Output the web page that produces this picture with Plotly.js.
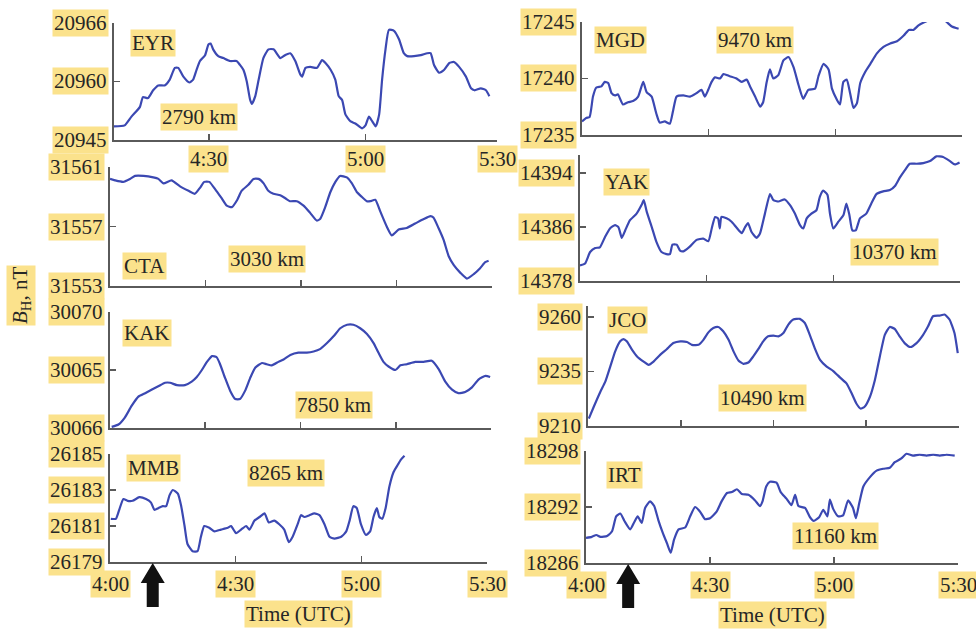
<!DOCTYPE html>
<html>
<head>
<meta charset="utf-8">
<script src="https://cdn.plot.ly/plotly-3.0.1.min.js"></script>
<style>html,body{margin:0;padding:0;background:#fff;}#chart{width:976px;height:629px;}</style>
</head>
<body>
<div id="chart"></div>
<script>
// ---- DATA (minutes after 4:00 UTC, B_H in nT) ----
const eyrT = [0,2.5,4.1,6.1,6.8,8.0,9.2,10.4,11.9,13.1,14.3,15.1,16.3,17.7,18.6,19.4,20.2,21.4,22.2,22.7,23.3,24.5,25.7,27.3,28.8,29.6,30.4,31.2,32.0,32.4,33.2,34.0,35.1,36.3,37.5,39.1,40.2,41.4,42.6,43.8,44.2,45.0,46.1,47.7,48.9,49.7,50.9,52.0,52.8,53.6,54.4,55.6,56.7,58.3,59.1,59.9,60.7,61.5,62.3,63.0,63.8,64.6,65.8,67.0,68.1,68.9,70.5,72.1,73.6,74.4,75.2,76.4,77.6,78.8,79.9,81.1,82.7,83.9,84.7,86.2,87.4,88.2];
const eyrV = [20955.4,20955.5,20956.4,20957.4,20958.4,20958.3,20959.1,20959.6,20959.6,20960.2,20961.4,20961.4,20960.5,20959.9,20960.2,20961.2,20962.1,20962.7,20963.8,20963.9,20963.3,20962.6,20962.4,20962.1,20962.1,20961.7,20961.2,20960.0,20958.1,20957.7,20958.5,20960.2,20962.4,20963.3,20963.3,20962.4,20962.7,20962.9,20962.1,20960.7,20960.5,20961.4,20961.5,20961.4,20962.2,20961.9,20961.2,20960.2,20958.5,20958.1,20956.6,20955.9,20955.7,20955.2,20955.5,20956.4,20955.9,20955.4,20956.6,20960.2,20963.3,20965.3,20965.2,20964.3,20962.9,20962.6,20962.6,20962.7,20962.9,20962.9,20961.7,20960.9,20961.2,20961.9,20962.0,20961.5,20960.5,20959.3,20959.1,20959.3,20959.1,20958.5];

const ctaT = [0,1.2,3.1,4.7,5.9,7.9,10.2,11.4,12.6,14.5,16.5,18.5,20.0,21.2,22.2,23.4,24.8,26.3,27.5,28.7,30.0,31.0,32.6,33.8,35.0,36.2,37.3,38.5,40.1,41.3,42.4,44.0,45.6,47.2,48.7,49.5,50.7,51.9,53.1,54.2,55.8,57.0,58.2,59.3,60.5,61.3,62.5,63.7,65.2,66.4,68.0,69.9,71.9,73.9,75.5,76.2,77.4,78.6,79.8,81.0,82.5,84.1,85.7,87.2,88.4,89.2];
const ctaV = [31560.2,31560.1,31560.0,31560.2,31560.4,31560.4,31560.3,31560.2,31559.9,31560.1,31559.7,31559.4,31559.2,31559.6,31560.0,31560.0,31559.5,31558.9,31558.4,31558.3,31558.8,31559.4,31559.8,31560.2,31560.2,31559.9,31559.4,31559.2,31559.1,31558.9,31558.7,31558.7,31558.4,31557.9,31557.4,31557.5,31558.3,31559.3,31560.0,31560.4,31560.3,31559.9,31559.3,31559.0,31558.7,31558.7,31558.8,31558.0,31557.0,31556.4,31556.8,31556.9,31557.2,31557.5,31557.7,31557.6,31556.9,31556.1,31555.0,31554.4,31553.9,31553.5,31553.8,31554.2,31554.6,31554.7];

const kakT = [0.4,2.0,3.5,5.1,6.7,8.3,9.8,11.4,13.0,14.2,15.8,17.7,19.3,20.5,21.7,22.9,24.1,25.2,26.0,27.2,28.4,29.6,30.7,31.9,33.1,34.3,35.9,37.0,38.2,39.8,41.0,42.6,44.5,46.5,48.1,49.6,51.2,52.8,54.4,56.0,57.5,59.1,60.7,62.3,63.4,64.6,65.8,67.4,68.6,70.1,72.1,74.1,76.0,77.6,79.2,80.8,82.3,83.9,85.5,87.1,88.7,89.8];
const kakV = [30060.1,30060.3,30060.9,30061.9,30062.7,30063.0,30063.3,30063.6,30063.9,30063.9,30063.7,30063.7,30064.0,30064.4,30065.0,30065.7,30066.2,30066.1,30065.5,30064.3,30063.2,30062.5,30062.5,30063.2,30064.3,30065.2,30065.6,30065.5,30065.4,30065.7,30065.9,30066.3,30066.5,30066.5,30066.6,30066.8,30067.3,30067.9,30068.6,30068.9,30068.9,30068.6,30068.1,30067.3,30066.5,30065.7,30065.3,30065.0,30065.4,30065.5,30065.7,30065.7,30065.8,30065.1,30064.0,30063.3,30063.0,30063.1,30063.5,30064.2,30064.5,30064.4];

const mmbT = [0.2,1.4,2.2,3.2,4.2,5.4,7.0,8.6,9.8,10.6,11.6,12.6,13.4,14.2,15.0,16.2,17.0,17.8,18.5,19.7,20.9,21.7,22.5,23.7,24.9,26.5,28.1,28.9,30.1,31.3,32.5,33.3,34.5,35.7,36.9,37.9,39.2,40.4,41.6,42.7,43.6,44.8,45.6,46.4,47.6,48.8,50.0,51.2,52.4,53.6,55.2,56.4,57.2,58.1,58.9,59.9,61.1,62.1,62.9,63.7,64.3,65.0,65.8,66.7,67.7,68.7,69.5,70.3];
const mmbV = [26181.4,26181.4,26181.9,26182.5,26182.4,26182.4,26182.6,26182.5,26182.3,26181.9,26182.0,26182.1,26182.1,26182.7,26183.0,26182.8,26182.1,26181.0,26180.0,26179.6,26179.6,26180.4,26181.0,26180.9,26180.7,26180.8,26180.9,26181.0,26180.6,26180.8,26181.0,26180.8,26181.3,26181.5,26181.7,26181.2,26181.3,26181.1,26180.8,26180.1,26180.4,26181.1,26181.6,26181.5,26181.6,26181.7,26181.6,26181.1,26180.4,26180.3,26180.4,26180.7,26181.3,26182.1,26182.0,26181.1,26180.5,26180.7,26181.5,26182.0,26181.5,26181.4,26182.0,26183.2,26184.0,26184.4,26184.7,26184.9];

const mgdT = [0,1.0,1.8,2.6,3.4,4.6,5.4,6.2,7.0,7.8,8.5,9.7,10.9,12.1,13.3,14.5,15.3,16.5,17.6,18.4,19.6,20.8,21.6,22.4,24.0,25.6,27.1,28.3,29.1,29.9,30.7,31.5,32.7,33.5,35.0,36.6,37.8,39.0,39.8,41.0,42.2,42.9,43.7,44.5,45.3,46.5,47.7,48.9,50.1,51.3,52.4,53.6,55.2,56.0,57.2,58.4,59.2,60.4,61.1,61.9,62.7,63.5,64.3,65.1,65.9,67.1,68.3,69.8,71.4,73.0,74.6,76.2,77.4,78.5,79.7,80.9,83.3,85.7,87.6,89.2];
const mgdV = [17236.2,17236.5,17236.6,17238.4,17239.2,17239.3,17239.7,17239.6,17238.7,17238.5,17238.6,17237.7,17237.9,17238.0,17238.4,17239.7,17238.8,17238.4,17236.9,17236.1,17236.2,17236.0,17237.2,17238.4,17238.5,17238.4,17238.7,17239.0,17238.4,17239.0,17239.7,17240.1,17240.0,17240.4,17240.2,17240.0,17239.7,17239.9,17239.3,17238.4,17237.5,17237.9,17239.6,17240.8,17240.0,17240.3,17241.6,17241.9,17241.0,17239.4,17238.2,17239.0,17239.1,17240.2,17241.3,17240.8,17239.1,17238.1,17237.7,17239.7,17239.9,17238.7,17237.4,17237.8,17239.6,17240.6,17241.3,17242.2,17242.8,17243.1,17243.3,17243.8,17244.3,17244.3,17244.7,17244.95,17245.3,17245.2,17244.6,17244.4];

const yakT = [0,1.2,2.4,3.6,4.7,5.9,7.1,8.3,9.1,9.9,10.7,11.8,13.4,14.6,15.1,15.8,17.0,18.1,19.3,20.5,21.3,21.9,22.9,23.7,24.5,26.0,27.6,29.2,30.4,31.2,32.0,32.7,33.1,33.5,34.7,35.9,37.1,38.3,39.1,39.8,40.6,41.8,42.6,43.8,45.0,45.8,47.0,48.5,49.7,50.9,52.1,52.9,53.7,54.8,56.0,56.8,57.6,58.6,59.2,60.0,61.2,62.4,63.1,63.8,64.5,65.3,66.3,67.8,69.0,70.2,71.8,73.4,74.6,75.7,77.0,78.1,79.7,81.3,82.9,84.4,86.0,87.6,88.8,89.9];
const yakV = [14380.3,14380.6,14382.3,14382.9,14383.0,14384.5,14385.8,14386.3,14386.0,14384.4,14385.5,14387.0,14388.0,14389.3,14390.0,14388.3,14386.0,14383.8,14382.3,14382.0,14382.0,14383.4,14383.4,14382.5,14382.4,14383.1,14384.1,14384.3,14383.9,14385.8,14387.5,14387.3,14385.8,14387.5,14387.3,14386.8,14385.9,14385.1,14386.0,14386.6,14385.3,14384.4,14385.0,14388.0,14390.9,14390.0,14389.8,14390.1,14389.3,14388.0,14386.3,14385.8,14387.3,14388.0,14388.5,14390.5,14391.4,14390.8,14388.0,14385.8,14386.8,14387.8,14389.5,14387.8,14385.5,14385.5,14387.3,14388.0,14389.5,14390.9,14391.3,14391.5,14392.1,14393.3,14394.5,14395.4,14395.4,14395.5,14395.8,14396.5,14396.4,14395.8,14395.3,14395.6];

const jcoT = [0.2,1.4,3.0,4.2,5.4,6.6,7.8,8.6,9.4,10.7,11.9,13.5,14.7,15.9,17.5,19.1,20.7,22.4,24.0,25.2,26.8,28.0,29.2,30.4,31.6,32.8,34.1,35.3,36.5,37.7,38.9,40.1,41.3,42.5,43.7,45.0,46.2,47.4,48.6,49.8,51.4,52.6,53.8,55.0,56.3,57.9,59.5,61.1,62.7,63.9,65.1,66.1,67.1,68.4,69.6,70.8,72.0,73.2,74.4,75.6,76.8,78.2,79.7,81.3,82.5,83.7,85.3,86.5,87.7,88.9,89.7];
const jcoV = [9213.4,9218.8,9225.7,9230.3,9237.2,9244.2,9248.8,9249.8,9248.8,9244.9,9241.9,9239.5,9238.0,9239.5,9242.6,9245.2,9248.0,9248.8,9248.5,9247.2,9247.2,9249.5,9252.9,9254.9,9255.4,9253.4,9249.5,9244.2,9240.0,9238.5,9239.1,9241.9,9245.2,9248.8,9251.1,9251.4,9251.1,9252.6,9256.5,9258.8,9259.1,9257.2,9251.8,9245.7,9240.3,9237.2,9235.2,9232.3,9229.5,9225.2,9220.3,9218.0,9218.8,9223.4,9231.1,9241.9,9251.8,9255.4,9254.5,9251.1,9248.0,9246.2,9248.0,9251.8,9255.7,9260.3,9260.6,9261.1,9258.8,9252.6,9243.4];

const irtT = [0,1.4,2.5,3.5,5.1,6.3,7.3,8.3,9.3,10.7,11.7,12.5,13.5,14.3,15.5,16.5,17.5,18.6,19.6,20.5,21.3,22.4,24.0,25.2,26.4,27.6,28.8,30.0,31.6,32.8,34.1,35.3,36.5,37.7,39.3,40.9,42.1,42.7,43.6,44.5,46.1,47.1,48.5,49.7,50.6,51.4,53.0,54.2,55.1,56.4,57.4,58.4,59.0,59.8,61.0,62.2,63.4,64.6,65.3,66.1,67.1,68.7,70.3,71.9,73.5,74.7,76.3,77.5,79.1,80.7,82.4,84.0,85.6,87.2,89.2];
const irtV = [18288.7,18288.8,18289.0,18288.8,18288.9,18289.4,18291.0,18291.3,18290.5,18289.6,18290.4,18291.0,18290.3,18291.9,18292.6,18292.1,18290.6,18289.2,18288.1,18287.1,18288.5,18289.6,18289.8,18291.0,18292.0,18291.5,18290.7,18290.8,18291.5,18292.6,18293.5,18293.6,18293.9,18293.4,18293.3,18292.7,18292.1,18292.6,18294.2,18294.7,18294.6,18293.6,18292.9,18292.2,18293.3,18292.1,18291.9,18290.9,18290.5,18290.9,18291.7,18291.0,18292.8,18291.8,18291.0,18291.1,18292.7,18291.9,18290.8,18292.4,18294.2,18295.2,18295.9,18296.1,18296.2,18296.8,18297.2,18297.7,18297.5,18297.6,18297.5,18297.6,18297.5,18297.6,18297.5];

// station names and distances
const stations = ['EYR','CTA','KAK','MMB','MGD','YAK','JCO','IRT'];
const distances = ['2790 km','3030 km','7850 km','8265 km','9470 km','10370 km','10490 km','11160 km'];

// y tick values and the labels printed at them
const eyrTicks = [20954,20960,20966], eyrTickText = ['20945','20960','20966'];
const ctaTicks = [31553,31557,31561], ctaTickText = ['31553','31557','31561'];
const kakTicks = [30060,30065,30070], kakTickText = ['30066','30065','30070'];
const mmbTicks = [26179,26181,26183,26185], mmbTickText = ['26179','26181','26183','26185'];
const mgdTicks = [17235,17240,17245], mgdTickText = ['17235','17240','17245'];
const yakTicks = [14378,14386,14394], yakTickText = ['14378','14386','14394'];
const jcoTicks = [9210,9235,9260], jcoTickText = ['9210','9235','9260'];
const irtTicks = [18286,18292,18298], irtTickText = ['18286','18292','18298'];

// x ticks (minutes after 4:00)
const xTicks3 = [30,60,90];
const xTicks4 = [22.5,45,67.5,90];
const eyrXTicks = [22.3,59.1,90], eyrXTickText = ['4:30','5:00','5:30'];
const bottomXTicks = [0,30,60,90], bottomXTickText = ['4:00','4:30','5:00','5:30'];
const eventT = 10.2; // arrow marking the event time

// ---- LAYOUT ----
const W = 976, H = 629;
const YEL = '#fbe28c';
const FONT = 'Liberation Serif, Times New Roman, serif';
const TXT = '#262626';
const LINE = '#3b48b2';

const panels = [
  {t:eyrT, v:eyrV, px:[114,497], py:[23,140], range:[20954,20966], yt:eyrTicks, ytt:eyrTickText, xt:eyrXTicks, name:[0.042,0.83], dist:[0.12,0.197]},
  {t:ctaT, v:ctaV, px:[110,492], py:[167,286], range:[31553,31561], yt:ctaTicks, ytt:ctaTickText, xt:xTicks4, name:[0.031,0.168], dist:[0.309,0.227]},
  {t:kakT, v:kakV, px:[110,491], py:[312,428], range:[30060,30070], yt:kakTicks, ytt:kakTickText, xt:xTicks4, name:[0.031,0.82], dist:[0.486,0.2]},
  {t:mmbT, v:mmbV, px:[110,487], py:[454,562], range:[26179,26185], yt:mmbTicks, ytt:mmbTickText, xt:xTicks3, name:[0.042,0.87], dist:[0.363,0.824]},
  {t:mgdT, v:mgdV, px:[582,962], py:[22,135], range:[17235,17245], yt:mgdTicks, ytt:mgdTickText, xt:xTicks3, name:[0.032,0.84], dist:[0.353,0.84]},
  {t:yakT, v:yakV, px:[580,960], py:[155,281], range:[14378,14396.7], yt:yakTicks, ytt:yakTickText, xt:xTicks3, name:[0.06,0.786], dist:[0.71,0.23]},
  {t:jcoT, v:jcoV, px:[588,959], py:[306,426], range:[9210,9265], yt:jcoTicks, ytt:jcoTickText, xt:xTicks4, name:[0.051,0.883], dist:[0.35,0.233]},
  {t:irtT, v:irtV, px:[586,958], py:[451,563], range:[18286,18298], yt:irtTicks, ytt:irtTickText, xt:xTicks3, name:[0.054,0.786], dist:[0.554,0.24]}
];

const data = [];
const layout = {
  width: W, height: H,
  margin: {l:0, r:0, t:0, b:0},
  paper_bgcolor: '#fff', plot_bgcolor: 'rgba(0,0,0,0)',
  showlegend: false,
  font: {family: FONT, size: 21, color: TXT},
  annotations: [], shapes: []
};

function lbl(text, extra) {
  return Object.assign({text: text, showarrow: false, bgcolor: YEL, borderpad: 1,
    font: {family: FONT, size: 21, color: TXT}}, extra);
}

panels.forEach((p, i) => {
  const n = i + 1;
  const xs = n === 1 ? '' : String(n);
  const xa = 'x' + xs, ya = 'y' + xs;
  data.push({type:'scatter', mode:'lines', x:p.t, y:p.v, xaxis:xa, yaxis:ya,
    line:{color:LINE, width:2.2, shape:'spline', smoothing:0.5}, hoverinfo:'skip'});
  layout['xaxis' + xs] = {
    domain:[p.px[0]/W, p.px[1]/W], range:[0,90], anchor:ya,
    showgrid:false, zeroline:false, showline:true, linecolor:'#5a5a5a', linewidth:1.6,
    ticks:'inside', ticklen:6, tickwidth:1.6, tickcolor:'#5a5a5a',
    tickmode:'array', tickvals:p.xt, showticklabels:false
  };
  layout['yaxis' + xs] = {
    domain:[1 - p.py[1]/H, 1 - p.py[0]/H], range:p.range, anchor:xa,
    showgrid:false, zeroline:false, showline:true, linecolor:'#5a5a5a', linewidth:1.6,
    ticks:'inside', ticklen:6, tickwidth:1.6, tickcolor:'#5a5a5a',
    tickmode:'array', tickvals:p.yt, showticklabels:false
  };
  // y tick labels (highlighted)
  p.yt.forEach((val, k) => {
    layout.annotations.push(lbl(p.ytt[k], {xref:xa + ' domain', x:0, xanchor:'right', xshift:-5,
      yref:ya, y:val, yanchor:'middle'}));
  });
  // station name and distance
  layout.annotations.push(lbl(stations[i], {xref:xa + ' domain', x:p.name[0], xanchor:'left',
    yref:ya + ' domain', y:p.name[1], yanchor:'middle'}));
  layout.annotations.push(lbl(distances[i], {xref:xa + ' domain', x:p.dist[0], xanchor:'left',
    yref:ya + ' domain', y:p.dist[1], yanchor:'middle'}));
});

// x tick labels under EYR
eyrXTicks.forEach((val, k) => {
  layout.annotations.push(lbl(eyrXTickText[k], {xref:'x', x:val, xanchor:'center',
    yref:'y domain', y:0, yanchor:'top', yshift:-5}));
});
// x tick labels + axis titles + event arrows under the bottom panels
[['x4','y4'],['x8','y8']].forEach(([xa, ya]) => {
  bottomXTicks.forEach((val, k) => {
    layout.annotations.push(lbl(bottomXTickText[k], {xref:xa, x:val, xanchor:'center',
      yref:ya + ' domain', y:0, yanchor:'top', yshift:-8}));
  });
  layout.annotations.push(lbl('Time (UTC)', {xref:xa + ' domain', x:0.5, xanchor:'center',
    yref:ya + ' domain', y:0, yanchor:'top', yshift:-38}));
  layout.shapes.push({type:'path', xref:xa, yref:ya + ' domain', xsizemode:'pixel', ysizemode:'pixel',
    xanchor:eventT, yanchor:0, path:'M0,-1 L12,-21 L6,-21 L6,-45 L-6,-45 L-6,-21 L-12,-21 Z',
    fillcolor:'#111', line:{width:0}});
});

// y-axis title
layout.annotations.push(lbl('<i>B</i><sub>H</sub>, nT', {xref:'paper', x:21/W, xanchor:'center',
  yref:'paper', y:1 - 296/H, yanchor:'middle', textangle:-90}));

Plotly.newPlot('chart', data, layout, {staticPlot:true, displayModeBar:false});
</script>
</body>
</html>
